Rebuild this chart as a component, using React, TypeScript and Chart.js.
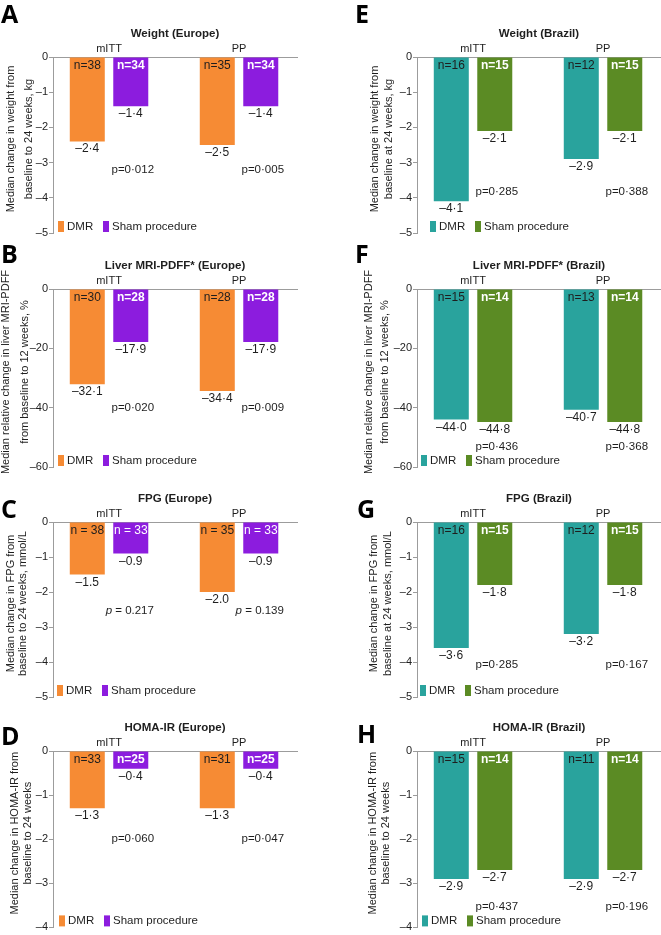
import React, { useEffect, useRef } from 'react';
import { Chart, registerables } from 'chart.js';

Chart.register(...registerables);

// ---------- data ----------
const groups = ['mITT', 'PP'];
const legendLabels = ['DMR', 'Sham procedure'];

const weightTicks = [0, -1, -2, -3, -4, -5];
const liverTicks = [0, -20, -40, -60];
const fpgTicks = [0, -1, -2, -3, -4, -5];
const homaTicks = [0, -1, -2, -3, -4];

const weightEuDmr = [-2.4, -2.5];
const weightEuSham = [-1.4, -1.4];
const weightEuNDmr = [38, 35];
const weightEuNSham = [34, 34];
const weightEuP = ['0·012', '0·005'];

const liverEuDmr = [-32.1, -34.4];
const liverEuSham = [-17.9, -17.9];
const liverEuNDmr = [30, 28];
const liverEuNSham = [28, 28];
const liverEuP = ['0·020', '0·009'];

const fpgEuDmr = [-1.5, -2.0];
const fpgEuSham = [-0.9, -0.9];
const fpgEuNDmr = [38, 35];
const fpgEuNSham = [33, 33];
const fpgEuP = ['0.217', '0.139'];

const homaEuDmr = [-1.3, -1.3];
const homaEuSham = [-0.4, -0.4];
const homaEuNDmr = [33, 31];
const homaEuNSham = [25, 25];
const homaEuP = ['0·060', '0·047'];

const weightBrDmr = [-4.1, -2.9];
const weightBrSham = [-2.1, -2.1];
const weightBrNDmr = [16, 12];
const weightBrNSham = [15, 15];
const weightBrP = ['0·285', '0·388'];

const liverBrDmr = [-44.0, -40.7];
const liverBrSham = [-44.8, -44.8];
const liverBrNDmr = [15, 13];
const liverBrNSham = [14, 14];
const liverBrP = ['0·436', '0·368'];

const fpgBrDmr = [-3.6, -3.2];
const fpgBrSham = [-1.8, -1.8];
const fpgBrNDmr = [16, 12];
const fpgBrNSham = [15, 15];
const fpgBrP = ['0·285', '0·167'];

const homaBrDmr = [-2.9, -2.9];
const homaBrSham = [-2.7, -2.7];
const homaBrNDmr = [15, 11];
const homaBrNSham = [14, 14];
const homaBrP = ['0·437', '0·196'];

// ---------- styles / layout ----------
const FONT = '"Liberation Sans", Arial, Helvetica, sans-serif';
const AXIS = '#9c9c9c';
const TEXT = '#1e1e1e';
const EU_COLORS = ['#F68B34', '#8C1CDE'];
const BR_COLORS = ['#29A39D', '#5B8B24'];

const COL_LEFT = [0, 330];
const COL_WIDTH = [330, 331];
const COL_AXIS_W = [53, 87];
const COL_PAD_R = [33, 0];
const ROW_TOP = [0, 235, 470, 700];
const ROW_H = [241, 241, 236, 235];
const ROW_CHART_TOP = [57, 289, 522, 751];
const ROW_CHART_BOTTOM = [233, 467, 697, 928];
const X_AXIS_H = 20;

type PanelCfg = {
  letter: string;
  letterPos: [number, number];
  col: number;
  row: number;
  title: string;
  yTitle: string[];
  yTitleX: number[];
  dmr: number[];
  sham: number[];
  nDmr: number[];
  nSham: number[];
  p: string[];
  ticks: number[];
  colors: string[];
  pAt: number;
  legendX: number;
  fpgStyle?: boolean;
};

const panels: PanelCfg[] = [
  { letter: 'A', letterPos: [1, 23], col: 0, row: 0, title: 'Weight (Europe)', yTitle: ['Median change in weight from', 'baseline to 24 weeks, kg'], yTitleX: [-42.5, -24.5], dmr: weightEuDmr, sham: weightEuSham, nDmr: weightEuNDmr, nSham: weightEuNSham, p: weightEuP, ticks: weightTicks, colors: EU_COLORS, pAt: -3.3, legendX: 5 },
  { letter: 'B', letterPos: [1, 263], col: 0, row: 1, title: 'Liver MRI-PDFF* (Europe)', yTitle: ['Median relative change in liver MRI-PDFF', 'from baseline to 12 weeks, %'], yTitleX: [-47, -28], dmr: liverEuDmr, sham: liverEuSham, nDmr: liverEuNDmr, nSham: liverEuNSham, p: liverEuP, ticks: liverTicks, colors: EU_COLORS, pAt: -41, legendX: 5 },
  { letter: 'C', letterPos: [1, 518], col: 0, row: 2, title: 'FPG (Europe)', yTitle: ['Median change in FPG from', 'baseline to 24 weeks, mmol/L'], yTitleX: [-42, -30], dmr: fpgEuDmr, sham: fpgEuSham, nDmr: fpgEuNDmr, nSham: fpgEuNSham, p: fpgEuP, ticks: fpgTicks, colors: EU_COLORS, pAt: -2.63, legendX: 4, fpgStyle: true },
  { letter: 'D', letterPos: [1, 745], col: 0, row: 3, title: 'HOMA-IR (Europe)', yTitle: ['Median change in HOMA-IR from', 'baseline to 24 weeks'], yTitleX: [-38, -25], dmr: homaEuDmr, sham: homaEuSham, nDmr: homaEuNDmr, nSham: homaEuNSham, p: homaEuP, ticks: homaTicks, colors: EU_COLORS, pAt: -2.06, legendX: 6 },
  { letter: 'E', letterPos: [355, 23], col: 1, row: 0, title: 'Weight (Brazil)', yTitle: ['Median change in weight from', 'baseline at 24 weeks, kg'], yTitleX: [-42, -28], dmr: weightBrDmr, sham: weightBrSham, nDmr: weightBrNDmr, nSham: weightBrNSham, p: weightBrP, ticks: weightTicks, colors: BR_COLORS, pAt: -3.92, legendX: 13 },
  { letter: 'F', letterPos: [355, 263], col: 1, row: 1, title: 'Liver MRI-PDFF* (Brazil)', yTitle: ['Median relative change in liver MRI-PDFF', 'from baseline to 12 weeks, %'], yTitleX: [-48, -32], dmr: liverBrDmr, sham: liverBrSham, nDmr: liverBrNDmr, nSham: liverBrNSham, p: liverBrP, ticks: liverTicks, colors: BR_COLORS, pAt: -54.2, legendX: 4 },
  { letter: 'G', letterPos: [357, 518], col: 1, row: 2, title: 'FPG (Brazil)', yTitle: ['Median change in FPG from', 'baseline at 24 weeks, mmol/L'], yTitleX: [-43, -29], dmr: fpgBrDmr, sham: fpgBrSham, nDmr: fpgBrNDmr, nSham: fpgBrNSham, p: fpgBrP, ticks: fpgTicks, colors: BR_COLORS, pAt: -4.17, legendX: 3 },
  { letter: 'H', letterPos: [357, 743], col: 1, row: 3, title: 'HOMA-IR (Brazil)', yTitle: ['Median change in HOMA-IR from', 'baseline to 24 weeks'], yTitleX: [-44.5, -31], dmr: homaBrDmr, sham: homaBrSham, nDmr: homaBrNDmr, nSham: homaBrNSham, p: homaBrP, ticks: homaTicks, colors: BR_COLORS, pAt: -3.6, legendX: 5 },
];

const fmtVal = (v: number, sep: string) =>
  (v < 0 ? '–' : '') + Math.abs(v).toFixed(1).replace('.', sep);

function PanelChart({ cfg }: { cfg: PanelCfg }) {
  const ref = useRef<HTMLCanvasElement>(null);
  const left = COL_LEFT[cfg.col];
  const top = ROW_TOP[cfg.row];
  const width = COL_WIDTH[cfg.col];
  const height = ROW_H[cfg.row];

  useEffect(() => {
    const canvas = ref.current!;
    const padTop = ROW_CHART_TOP[cfg.row] - top - X_AXIS_H;
    const padBottom = top + height - ROW_CHART_BOTTOM[cfg.row];
    const yMin = Math.min(...cfg.ticks);
    const yMax = Math.max(...cfg.ticks);
    const step = Math.abs(cfg.ticks[1] - cfg.ticks[0]);
    const sep = cfg.fpgStyle ? '.' : '·';

    const labelPlugin = {
      id: 'panelLabels',
      afterDraw(chart: any) {
        const ctx = chart.ctx as CanvasRenderingContext2D;
        const ca = chart.chartArea;
        const ys = chart.scales.y;
        ctx.save();
        // panel letter
        ctx.fillStyle = '#000';
        ctx.textAlign = 'left';
        ctx.textBaseline = 'alphabetic';
        ctx.font = `bold 25px "Open Sans", ${FONT}`;
        ctx.fillText(cfg.letter, cfg.letterPos[0] - left, cfg.letterPos[1] - top);
        // title
        ctx.fillStyle = TEXT;
        ctx.textAlign = 'center';
        ctx.font = `bold 11.5px ${FONT}`;
        ctx.fillText(cfg.title, (ca.left + ca.right) / 2, ca.top - 20);
        // y title
        ctx.font = `11px ${FONT}`;
        const cy = (ca.top + ca.bottom) / 2 - 6;
        cfg.yTitle.forEach((line, i) => {
          ctx.save();
          ctx.translate(ca.left + cfg.yTitleX[i], cy);
          ctx.rotate(-Math.PI / 2);
          ctx.textAlign = 'center';
          ctx.textBaseline = 'middle';
          ctx.fillText(line, 0, 0);
          ctx.restore();
        });
        // bar labels
        const dm = chart.getDatasetMeta(0);
        const sm = chart.getDatasetMeta(1);
        ctx.textAlign = 'center';
        ctx.textBaseline = 'alphabetic';
        const nTxt = (n: number) => (cfg.fpgStyle ? `n = ${n}` : `n=${n}`);
        dm.data.forEach((bar: any, i: number) => {
          ctx.fillStyle = TEXT;
          ctx.font = `12px ${FONT}`;
          ctx.fillText(nTxt(cfg.nDmr[i]), bar.x, ca.top + 11.5);
          ctx.fillText(fmtVal(cfg.dmr[i], sep), bar.x, bar.y + 11);
        });
        sm.data.forEach((bar: any, i: number) => {
          ctx.fillStyle = '#fff';
          ctx.font = `${cfg.fpgStyle ? '' : 'bold '}12px ${FONT}`;
          ctx.fillText(nTxt(cfg.nSham[i]), bar.x, ca.top + 11.5);
          ctx.fillStyle = TEXT;
          ctx.font = `12px ${FONT}`;
          ctx.fillText(fmtVal(cfg.sham[i], sep), bar.x, bar.y + 11);
          // p value
          const py = ys.getPixelForValue(cfg.pAt);
          const px = bar.x + 2;
          ctx.font = `11.5px ${FONT}`;
          if (cfg.fpgStyle) {
            const rest = ` = ${cfg.p[i]}`;
            ctx.font = `italic 11.5px ${FONT}`;
            const wp = ctx.measureText('p').width;
            ctx.font = `11.5px ${FONT}`;
            const wr = ctx.measureText(rest).width;
            const x0 = px - 3 - (wp + wr) / 2;
            ctx.textAlign = 'left';
            ctx.font = `italic 11.5px ${FONT}`;
            ctx.fillText('p', x0, py);
            ctx.font = `11.5px ${FONT}`;
            ctx.fillText(rest, x0 + wp, py);
            ctx.textAlign = 'center';
          } else {
            ctx.fillText(`p=${cfg.p[i]}`, px, py);
          }
        });
        // legend
        const lx = ca.left + cfg.legendX;
        const lb = ca.bottom;
        ctx.textAlign = 'left';
        ctx.font = `11.5px ${FONT}`;
        ctx.fillStyle = cfg.colors[0];
        ctx.fillRect(lx, lb - 12, 6, 11);
        ctx.fillStyle = TEXT;
        ctx.fillText(legendLabels[0], lx + 9, lb - 3);
        ctx.fillStyle = cfg.colors[1];
        ctx.fillRect(lx + 45, lb - 12, 6, 11);
        ctx.fillStyle = TEXT;
        ctx.fillText(legendLabels[1], lx + 54, lb - 3);
        ctx.restore();
      },
    };

    const chart = new Chart(canvas, {
      type: 'bar',
      data: {
        datasets: [
          {
            label: legendLabels[0],
            data: cfg.dmr.map((v, i) => ({ x: i, y: v })),
            backgroundColor: cfg.colors[0],
            borderWidth: 0,
            categoryPercentage: 0.669,
            barPercentage: 0.805,
          },
          {
            label: legendLabels[1],
            data: cfg.sham.map((v, i) => ({ x: i, y: v })),
            backgroundColor: cfg.colors[1],
            borderWidth: 0,
            categoryPercentage: 0.669,
            barPercentage: 0.805,
          },
        ],
      } as any,
      options: {
        responsive: false,
        animation: false,
        events: [],
        layout: { padding: { top: padTop, bottom: padBottom, left: 0, right: COL_PAD_R[cfg.col] } },
        plugins: {
          legend: { display: false },
          tooltip: { enabled: false },
          title: { display: false },
        },
        scales: {
          x: {
            type: 'linear',
            position: 'top',
            bounds: 'data',
            min: -0.431,
            max: 1.446,
            offset: false,
            grid: { display: false, drawTicks: false, tickLength: 0 },
            border: { display: true, color: AXIS, width: 1 },
            ticks: {
              padding: 1,
              color: TEXT,
              font: { family: FONT, size: 11 },
              maxRotation: 0,
              autoSkip: false,
              callback: (_v: any, idx: number) => groups[idx],
            },
            afterBuildTicks: (s: any) => {
              s.ticks = groups.map((_, i) => ({ value: i }));
            },
            afterFit: (s: any) => {
              s.height = X_AXIS_H;
            },
          },
          y: {
            type: 'linear',
            min: yMin,
            max: yMax,
            ticks: {
              stepSize: step,
              padding: 1,
              color: TEXT,
              font: { family: FONT, size: 11 },
              callback: (v: any) => (Number(v) === 0 ? '0' : '–' + Math.abs(Number(v))),
            },
            grid: { drawOnChartArea: false, drawTicks: true, tickLength: 4, color: AXIS },
            border: { display: true, color: AXIS, width: 1 },
            afterFit: (s: any) => {
              s.width = COL_AXIS_W[cfg.col];
            },
          },
        },
      } as any,
      plugins: [labelPlugin],
    });
    return () => chart.destroy();
  }, []);

  return (
    <canvas
      ref={ref}
      width={width}
      height={height}
      style={{ position: 'absolute', left, top, width, height }}
    />
  );
}

export default function App() {
  useEffect(() => {
    document.body.style.margin = '0';
  }, []);
  return (
    <div
      style={{
        position: 'absolute',
        left: 0,
        top: 0,
        width: 661,
        height: 935,
        overflow: 'hidden',
        background: '#fff',
      }}
    >
      {panels.map((p) => (
        <PanelChart key={p.letter} cfg={p} />
      ))}
    </div>
  );
}
